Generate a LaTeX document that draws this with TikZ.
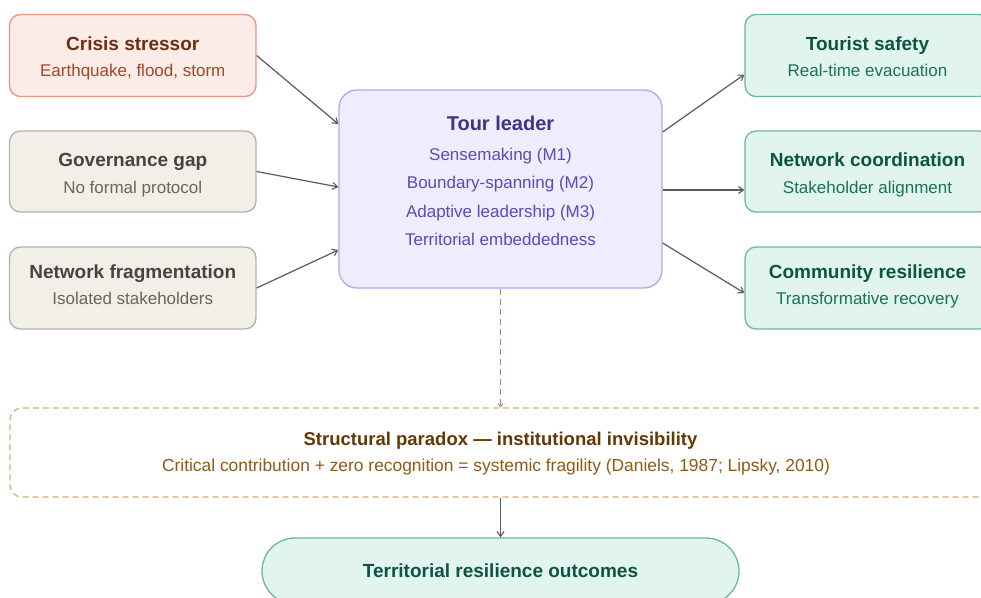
\documentclass[tikz,border=0pt]{standalone}
\usepackage{fontspec}
\setmainfont{Liberation Sans}
\usetikzlibrary{arrows.meta}
\definecolor{redF}{HTML}{FBECE7}
\definecolor{redD}{HTML}{E39A82}
\definecolor{redT}{HTML}{712B13}
\definecolor{redS}{HTML}{A8442A}
\definecolor{grayF}{HTML}{F1EFE8}
\definecolor{grayD}{HTML}{B4B2A9}
\definecolor{grayT}{HTML}{444441}
\definecolor{grayS}{HTML}{66655F}
\definecolor{purF}{HTML}{EEEDFE}
\definecolor{purD}{HTML}{AFA9EC}
\definecolor{purT}{HTML}{3C3489}
\definecolor{purS}{HTML}{574DB8}
\definecolor{tealF}{HTML}{E1F5EE}
\definecolor{tealD}{HTML}{6CB89C}
\definecolor{tealT}{HTML}{0D5444}
\definecolor{tealS}{HTML}{187259}
\definecolor{ambD}{HTML}{D4AE74}
\definecolor{ambL}{HTML}{A8875A}
\definecolor{ambT}{HTML}{633806}
\definecolor{ambS}{HTML}{8F5A14}
\definecolor{arrowC}{HTML}{5A5A58}
\begin{document}
\begin{tikzpicture}[x=1pt,y=-1pt,
  box/.style={draw, line width=1.3pt, rounded corners=11pt, inner sep=0pt, minimum width=246.5pt, minimum height=82pt},
  ttl/.style={font=\fontsize{19}{22}\selectfont\bfseries, anchor=base, inner sep=0pt},
  sub/.style={font=\fontsize{17}{20}\selectfont, anchor=base, inner sep=0pt},
  conn/.style={draw=arrowC, line width=1.2pt, -{Straight Barb[length=5pt,width=7pt,line width=1.1pt]}},
  dconn/.style={draw=ambL, line width=1.1pt, dash pattern=on 6pt off 4pt, -{Straight Barb[length=3pt,width=5pt,line width=0.9pt]}}
]
\clip (0,0) rectangle (981,597);
\fill[white] (0,0) rectangle (981,597);

% left column
\node[box, fill=redF, draw=redD] (crisis) at (132.75,55.5) {};
\node[ttl, text=redT] (crisisA) at (132.75,50) {Crisis stressor};
\node[sub, text=redS] (crisisB) at (132.75,76) {Earthquake, flood, storm};

\node[box, fill=grayF, draw=grayD, minimum height=81pt] (gov) at (132.75,171.5) {};
\node[ttl, text=grayT] (govA) at (132.75,166.5) {Governance gap};
\node[sub, text=grayS] (govB) at (132.75,193) {No formal protocol};

\node[box, fill=grayF, draw=grayD] (frag) at (132.75,288) {};
\node[ttl, text=grayT] (fragA) at (132.75,278.5) {Network fragmentation};
\node[sub, text=grayS] (fragB) at (132.75,304.5) {Isolated stakeholders};

% centre
\node[box, fill=purF, draw=purD, rounded corners=18pt, minimum width=323pt, minimum height=198pt] (tl) at (500.5,189) {};
\node[ttl, text=purT, font=\fontsize{20}{24}\selectfont\bfseries] (tlA) at (500.5,130) {Tour leader};
\node[sub, text=purS] (tl1) at (500.5,160) {Sensemaking (M1)};
\node[sub, text=purS] (tl2) at (500.5,188.5) {Boundary-spanning (M2)};
\node[sub, text=purS] (tl3) at (500.5,217) {Adaptive leadership (M3)};
\node[sub, text=purS] (tl4) at (500.5,245) {Territorial embeddedness};

% right column
\node[box, fill=tealF, draw=tealD, minimum width=245pt] (ts) at (867.5,55.5) {};
\node[ttl, text=tealT] (tsA) at (867.5,50) {Tourist safety};
\node[sub, text=tealS] (tsB) at (867.5,76) {Real-time evacuation};

\node[box, fill=tealF, draw=tealD, minimum width=245pt, minimum height=81pt] (nc) at (867.5,171.5) {};
\node[ttl, text=tealT] (ncA) at (867.5,166.5) {Network coordination};
\node[sub, text=tealS] (ncB) at (867.5,193) {Stakeholder alignment};

\node[box, fill=tealF, draw=tealD, minimum width=245pt] (cr) at (867.5,288) {};
\node[ttl, text=tealT] (crA) at (867.5,278.5) {Community resilience};
\node[sub, text=tealS] (crB) at (867.5,304.5) {Transformative recovery};

% paradox
\node[box, fill=white, draw=ambD, dash pattern=on 6pt off 4pt, line width=1.2pt, rounded corners=12pt, minimum width=981pt, minimum height=89pt] (px) at (500.5,452.5) {};
\node[ttl, text=ambT, font=\fontsize{18.5}{22}\selectfont\bfseries] (pxA) at (500.5,445) {Structural paradox — institutional invisibility};
\node[sub, text=ambS, font=\fontsize{17.4}{20}\selectfont] (pxB) at (496,471) {Critical contribution + zero recognition = systemic fragility (Daniels, 1987; Lipsky, 2010)};

% outcome
\node[box, fill=tealF, draw=tealD, rounded corners=33pt, minimum width=477pt, minimum height=66pt] (out) at (500.5,571) {};
\node[ttl, text=tealT] (outA) at (500.5,577) {Territorial resilience outcomes};

% connectors
\draw[conn] (crisis.east) -- ([yshift=65pt]tl.west);
\draw[conn] (gov.east) -- ([yshift=2pt]tl.west);
\draw[conn] (frag.east) -- ([yshift=-61pt]tl.west);
\draw[conn] ([yshift=57pt]tl.east) -- ([yshift=-19pt]ts.west);
\draw[conn] ([yshift=-1pt]tl.east) -- ([yshift=-18.5pt]nc.west);
\draw[conn] ([yshift=-54pt]tl.east) -- ([yshift=-5pt]cr.west);
\draw[dconn] (tl.south) -- (px.north);
\draw[conn] (px.south) -- (out.north);
\end{tikzpicture}
\end{document}
